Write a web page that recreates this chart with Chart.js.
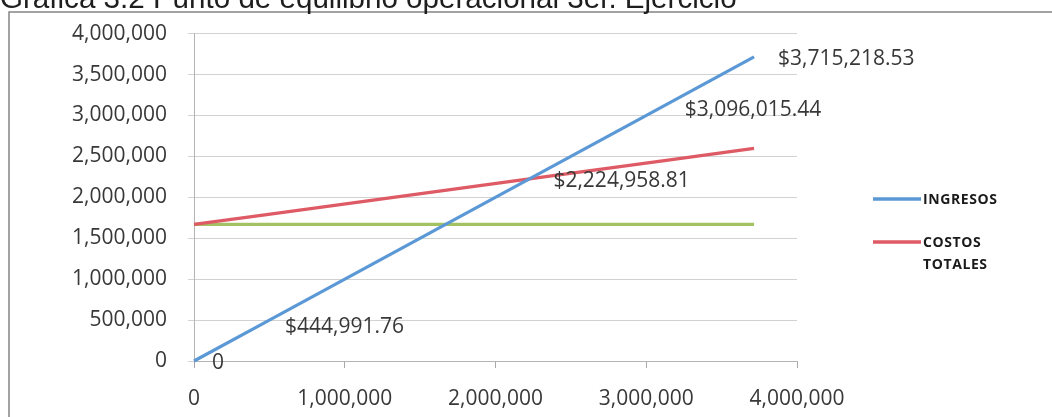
<!DOCTYPE html>
<html lang="es">
<head>
<meta charset="utf-8">
<title>Punto de equilibrio operacional</title>
<script src="https://cdn.jsdelivr.net/npm/chart.js@4.4.1/dist/chart.umd.min.js"></script>
<style>
  html, body { margin: 0; padding: 0; background: #ffffff; }
  #wrap { width: 1052px; height: 417px; position: relative; }
</style>
</head>
<body>
<div id="wrap"><canvas id="chart" width="1052" height="417"></canvas></div>
<script>
// Break-even chart: income vs total cost vs fixed cost
const titleText = 'Gráfica 3.2 Punto de equilibrio operacional 3er. Ejercicio';

const ventas        = [0, 444991.76, 2224958.81, 3096015.44, 3715218.53];
const ingresos      = [0, 444991.76, 2224958.81, 3096015.44, 3715218.53];
const costosTotales = [1668719, 1779967, 2224958.81, 2442723, 2597524];
const costosFijos   = [1668719, 1668719, 1668719, 1668719, 1668719];

const seriesNames  = ['INGRESOS', 'COSTOS TOTALES', 'COSTOS FIJOS'];
const seriesColors = ['#5B98D6', '#DE5A64', '#A3C263'];

const yTicks = [0, 500000, 1000000, 1500000, 2000000, 2500000, 3000000, 3500000, 4000000];
const xTicks = [0, 1000000, 2000000, 3000000, 4000000];

const pairs = (xs, ys) => xs.map((x, i) => ({ x: x, y: ys[i] }));
const fmtAxis = v => Number(v).toLocaleString('en-US');
const fmtMoney = v => v === 0 ? '0' :
  '$' + v.toLocaleString('en-US', { minimumFractionDigits: 2, maximumFractionDigits: 2 });

const TEXT = '#383838';
const FONT = '"Open Sans", "Liberation Sans", sans-serif';

// page frame and the partly hidden heading above it
const framePlugin = {
  id: 'frame',
  beforeDraw(chart) {
    const ctx = chart.ctx;
    ctx.save();
    ctx.fillStyle = '#ffffff';
    ctx.fillRect(0, 0, chart.width, chart.height);
    ctx.strokeStyle = '#858585';
    ctx.lineWidth = 1.5;
    ctx.beginPath();
    ctx.moveTo(9, chart.height);
    ctx.lineTo(9, 12);
    ctx.lineTo(chart.width, 12);
    ctx.stroke();

    ctx.font = '24px "Liberation Sans", Arial, sans-serif';
    const w = ctx.measureText(titleText).width;
    const size = 24 * 737 / w;
    ctx.font = size.toFixed(2) + 'px "Liberation Sans", Arial, sans-serif';
    ctx.fillStyle = '#1e1e1e';
    ctx.textAlign = 'left';
    ctx.textBaseline = 'alphabetic';
    ctx.fillText(titleText, 0, 8);
    ctx.restore();
  }
};

// value labels to the right of each income point, plus the legend
const labelsPlugin = {
  id: 'labels',
  afterDatasetsDraw(chart) {
    const ctx = chart.ctx;
    ctx.save();
    const meta = chart.getDatasetMeta(0);
    ctx.font = '21px ' + FONT;
    ctx.fillStyle = TEXT;
    ctx.textAlign = 'left';
    ctx.textBaseline = 'middle';
    meta.data.forEach((pt, i) => {
      const off = ingresos[i] === 0 ? 18 : 24;
      ctx.fillText(fmtMoney(ingresos[i]), pt.x + off, pt.y + 2);
    });

    // legend (two entries)
    const entries = [
      { color: seriesColors[0], lines: ['INGRESOS'], y: 199 },
      { color: seriesColors[1], lines: ['COSTOS', 'TOTALES'], y: 242 }
    ];
    ctx.font = '700 14px ' + FONT;
    ctx.fillStyle = '#1a1a1a';
    if ('letterSpacing' in ctx) ctx.letterSpacing = '0.6px';
    entries.forEach(e => {
      ctx.strokeStyle = e.color;
      ctx.lineWidth = 3.5;
      ctx.beginPath();
      ctx.moveTo(873, e.y);
      ctx.lineTo(921, e.y);
      ctx.stroke();
      e.lines.forEach((t, k) => ctx.fillText(t, 923, e.y + 1 + k * 22));
    });
    ctx.restore();
  }
};

new Chart(document.getElementById('chart'), {
  type: 'scatter',
  data: {
    datasets: [
      { label: seriesNames[0], data: pairs(ventas, ingresos), borderColor: seriesColors[0], order: 1 },
      { label: seriesNames[1], data: pairs(ventas, costosTotales), borderColor: seriesColors[1], order: 2 },
      { label: seriesNames[2], data: pairs(ventas, costosFijos), borderColor: seriesColors[2], order: 3 }
    ].map(d => Object.assign(d, {
      showLine: true, borderWidth: 3.2, pointRadius: 0, pointHoverRadius: 0,
      tension: 0, backgroundColor: d.borderColor, clip: false
    }))
  },
  options: {
    responsive: false,
    animation: false,
    events: [],
    layout: { padding: { top: 32, right: 255, left: 0, bottom: 0 } },
    plugins: { legend: { display: false }, tooltip: { enabled: false }, title: { display: false } },
    scales: {
      x: {
        type: 'linear',
        min: 0, max: 4000000,
        afterBuildTicks: s => { s.ticks = xTicks.map(v => ({ value: v })); },
        afterFit: s => { s.height = 56; },
        grid: { drawOnChartArea: false, drawTicks: true, tickLength: 7, color: '#a8a8a8' },
        border: { display: true, color: '#b4b4b4', width: 1 },
        ticks: { color: TEXT, font: { family: FONT, size: 21 }, padding: 18, callback: fmtAxis, maxRotation: 0 }
      },
      y: {
        type: 'linear',
        min: 0, max: 4000000,
        afterBuildTicks: s => { s.ticks = yTicks.map(v => ({ value: v })); },
        afterFit: s => { s.width = 194; },
        grid: { color: '#d2d2d2', lineWidth: 1, drawTicks: true, tickLength: 6 },
        border: { display: true, color: '#b4b4b4', width: 1 },
        ticks: { color: TEXT, font: { family: FONT, size: 21 }, padding: 21, callback: fmtAxis }
      }
    }
  },
  plugins: [framePlugin, labelsPlugin]
});
</script>
</body>
</html>
